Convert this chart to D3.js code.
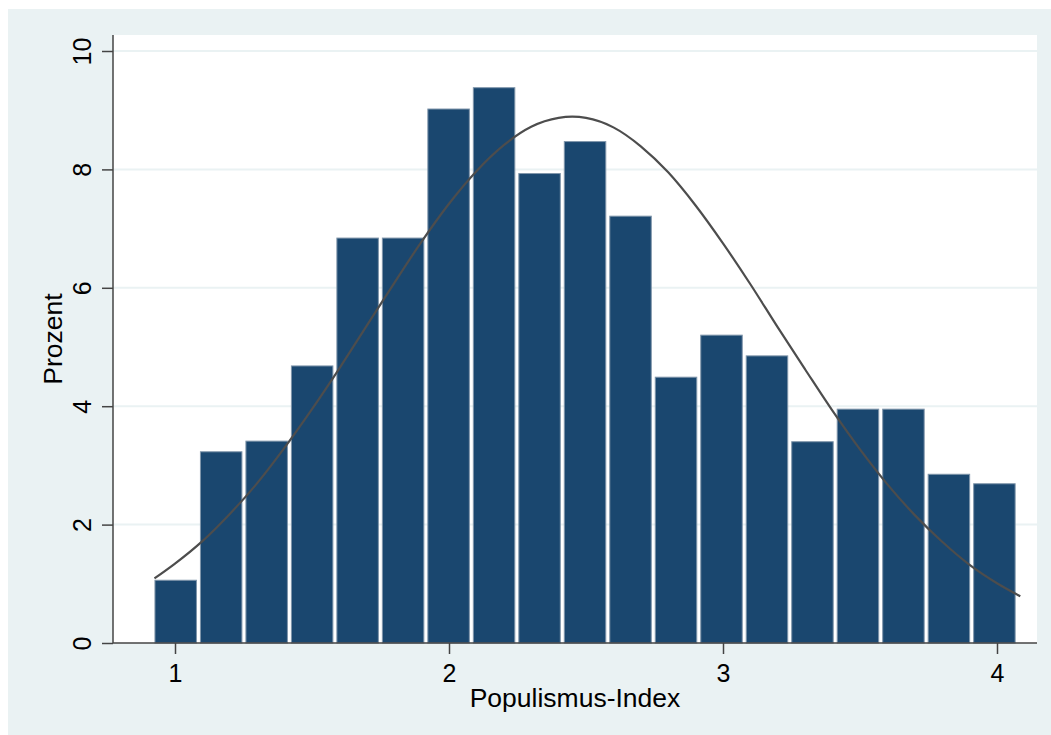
<!DOCTYPE html>
<html lang="de">
<head>
    <meta charset="UTF-8">
    <title>Populismus-Index</title>
    <script src="https://d3js.org/d3.v7.min.js"></script>
    <style>
        body {
            margin: 0;
            background: #fff;
            font-family: "Liberation Sans", Arial, sans-serif;
        }
        .tick-label {
            font-size: 25px;
            fill: #000;
        }
        .axis-title {
            font-size: 26.5px;
            fill: #000;
        }
    </style>
</head>
<body>
    <script>
        // histogram bins (lower edges) and percent per bin
        const binEdges = [0.925, 1.091, 1.257, 1.423, 1.589, 1.755, 1.921, 2.087, 2.253, 2.419,
                          2.585, 2.751, 2.917, 3.083, 3.249, 3.415, 3.581, 3.747, 3.913, 4.079];
        const percent = [1.06, 3.23, 3.41, 4.68, 6.84, 6.84, 9.02, 9.38, 7.93, 8.47,
                         7.21, 4.49, 5.20, 4.85, 3.40, 3.95, 3.95, 2.85, 2.69];

        // overlaid normal curve
        const curveX = [0.925, 1.0, 1.1, 1.2, 1.3, 1.4, 1.5, 1.6, 1.7, 1.8, 1.9, 2.0, 2.1, 2.2, 2.3, 2.4,
                        2.45, 2.5, 2.6, 2.7, 2.8, 2.9, 3.0, 3.1, 3.2, 3.3, 3.4, 3.5, 3.6, 3.7, 3.8, 3.9, 4.0, 4.085];
        const curveY = [1.09, 1.34, 1.72, 2.18, 2.70, 3.30, 3.95, 4.64, 5.36, 6.08, 6.78, 7.42, 7.97, 8.41, 8.72, 8.87,
                        8.89, 8.87, 8.71, 8.39, 7.95, 7.39, 6.75, 6.06, 5.33, 4.62, 3.92, 3.27, 2.68, 2.16, 1.71, 1.32, 1.01, 0.79];

        const xTicks = [1, 2, 3, 4];
        const yTicks = [0, 2, 4, 6, 8, 10];
        const gridTicks = [2, 4, 6, 8, 10];

        const W = 1051, H = 735;
        const plot = { left: 113, right: 1037, top: 35, bottom: 643 };

        const svg = d3.select("body").append("svg")
            .attr("width", W)
            .attr("height", H);

        // outer graph region
        svg.append("rect")
            .attr("x", 8).attr("y", 9)
            .attr("width", W - 8).attr("height", H - 9)
            .attr("fill", "#eaf2f3");

        svg.append("rect")
            .attr("x", plot.left).attr("y", plot.top)
            .attr("width", plot.right - plot.left)
            .attr("height", plot.bottom - plot.top)
            .attr("fill", "#fff");

        const x = d3.scaleLinear()
            .domain([0.7737, 4.146])
            .range([plot.left, plot.right]);

        const y = d3.scaleLinear()
            .domain([0, 10])
            .range([plot.bottom, 51]);

        // gridlines
        svg.append("g")
            .selectAll("line")
            .data(gridTicks)
            .enter()
            .append("line")
            .attr("x1", plot.left)
            .attr("x2", plot.right)
            .attr("y1", d => y(d))
            .attr("y2", d => y(d))
            .attr("stroke", "#eaf2f3")
            .attr("stroke-width", 2);

        // bars
        const bins = percent.map((v, i) => ({ x0: binEdges[i], x1: binEdges[i + 1], v }));
        svg.append("g")
            .selectAll("rect")
            .data(bins)
            .enter()
            .append("rect")
            .attr("x", d => x(d.x0) + 0.5)
            .attr("width", d => x(d.x1) - x(d.x0) - 4)
            .attr("y", d => y(d.v))
            .attr("height", d => y(0) - y(d.v))
            .attr("fill", "#1a476f")
            .attr("stroke", "#7f95aa")
            .attr("stroke-width", 1);

        // normal density
        const pts = curveX.map((d, i) => [d, curveY[i]]);
        svg.append("path")
            .datum(pts)
            .attr("fill", "none")
            .attr("stroke", "#4d4d4d")
            .attr("stroke-width", 2.2)
            .attr("d", d3.line()
                .x(d => x(d[0]))
                .y(d => y(d[1]))
                .curve(d3.curveMonotoneX));

        // y axis
        const yAxis = svg.append("g")
            .attr("transform", `translate(${plot.left},0)`)
            .call(d3.axisLeft(y).tickValues(yTicks).tickSize(11).tickFormat(d3.format("d")));
        yAxis.select(".domain")
            .attr("d", `M0,${plot.top}V${plot.bottom}`)
            .attr("stroke", "#444")
            .attr("stroke-width", 1.5);
        yAxis.selectAll(".tick line").attr("stroke", "#444").attr("stroke-width", 1.5);
        yAxis.selectAll(".tick text")
            .attr("class", "tick-label")
            .attr("font-family", null)
            .attr("font-size", null)
            .attr("x", null)
            .attr("dy", null)
            .attr("text-anchor", "middle")
            .attr("transform", "translate(-22,0) rotate(-90)");

        // x axis
        const xAxis = svg.append("g")
            .attr("transform", `translate(0,${plot.bottom})`)
            .call(d3.axisBottom(x).tickValues(xTicks).tickSize(11).tickFormat(d3.format("d")));
        xAxis.select(".domain")
            .attr("d", `M${plot.left},0H${plot.right}`)
            .attr("stroke", "#444")
            .attr("stroke-width", 1.5);
        xAxis.selectAll(".tick line").attr("stroke", "#444").attr("stroke-width", 1.5);
        xAxis.selectAll(".tick text")
            .attr("class", "tick-label")
            .attr("font-family", null)
            .attr("font-size", null)
            .attr("dy", null)
            .attr("y", 39);

        // axis titles
        svg.append("text")
            .attr("class", "axis-title")
            .attr("x", (plot.left + plot.right) / 2)
            .attr("y", 707)
            .attr("text-anchor", "middle")
            .text("Populismus-Index");

        svg.append("text")
            .attr("class", "axis-title")
            .attr("transform", `translate(62,${(plot.top + plot.bottom) / 2}) rotate(-90)`)
            .attr("text-anchor", "middle")
            .text("Prozent");
    </script>
</body>
</html>
